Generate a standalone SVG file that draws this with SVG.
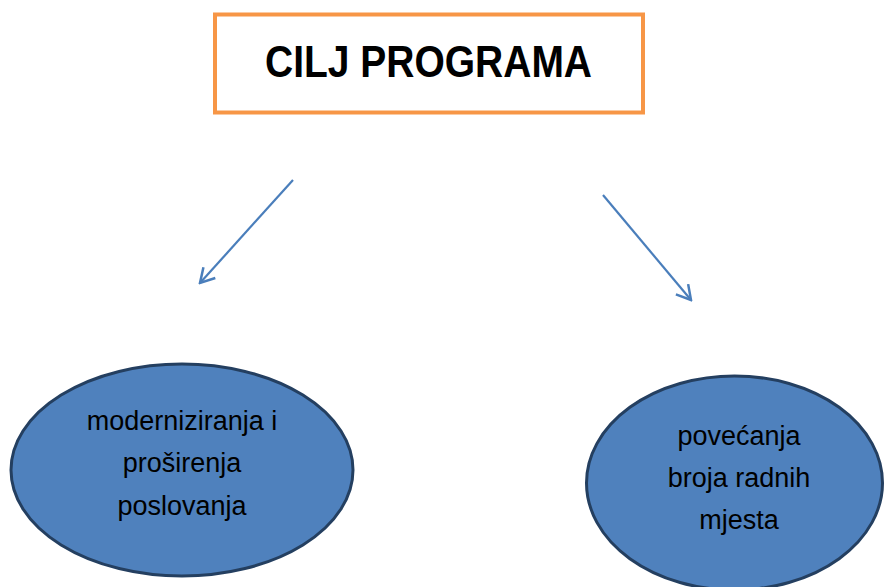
<svg xmlns="http://www.w3.org/2000/svg" width="884" height="587" viewBox="0 0 884 587">
<style>
.title{font-family:"Liberation Sans",Arial,sans-serif;font-weight:bold;font-size:44px;fill:#000}
.lbl{font-family:"Liberation Sans",Arial,sans-serif;font-size:27px;fill:#000;text-anchor:middle}
.oval{fill:#4F81BD;stroke:#243F60;stroke-width:3}
.conn{stroke:#4A7EBB;stroke-width:2.2;fill:none;marker-end:url(#arr)}
</style>
<defs>
<marker id="arr" markerUnits="userSpaceOnUse" viewBox="0 0 20 20" markerWidth="20" markerHeight="20" refX="18" refY="10" orient="auto">
<path d="M4,2 L18,10 L4,18" fill="none" stroke="#4A7EBB" stroke-width="2.5" stroke-linejoin="miter"/>
</marker>
</defs>
<rect width="884" height="587" fill="#fff"/>
<g id="title">
<rect x="215" y="14.5" width="428" height="98" fill="#fff" stroke="#F79646" stroke-width="4"/>
<text class="title" x="265" y="77" textLength="327" lengthAdjust="spacingAndGlyphs">CILJ PROGRAMA</text>
</g>
<g id="connectors">
<line class="conn" x1="293" y1="180" x2="200" y2="283"/>
<line class="conn" x1="603" y1="195" x2="691" y2="300"/>
</g>
<g id="node-left">
<ellipse class="oval" cx="182" cy="470" rx="171" ry="106"/>
<text class="lbl" x="182" y="430">moderniziranja i</text>
<text class="lbl" x="182" y="472">proširenja</text>
<text class="lbl" x="182" y="515">poslovanja</text>
</g>
<g id="node-right">
<ellipse class="oval" cx="734.5" cy="483" rx="148" ry="107"/>
<text class="lbl" x="739" y="445">povećanja</text>
<text class="lbl" x="739" y="487">broja radnih</text>
<text class="lbl" x="739" y="529">mjesta</text>
</g>
</svg>
